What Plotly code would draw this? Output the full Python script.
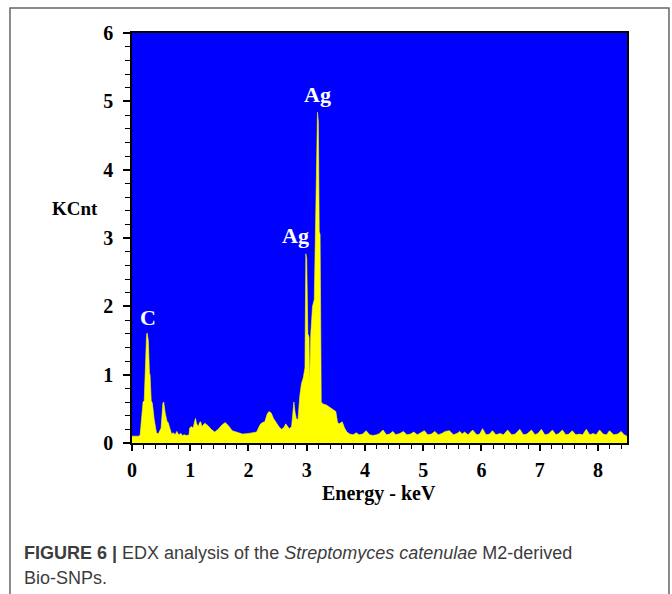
import plotly.graph_objects as go

# EDX spectrum (Energy in keV, counts in KCnt)
energy = [0.00, 0.05, 0.08, 0.10, 0.12, 0.14, 0.155, 0.17, 0.19, 0.21, 0.23, 0.25, 0.26, 0.28, 0.30,
          0.31, 0.33, 0.35, 0.38, 0.42, 0.45, 0.48, 0.50, 0.53, 0.545, 0.57, 0.60, 0.62, 0.65, 0.68,
          0.71, 0.74, 0.77, 0.80, 0.84, 0.87, 0.90, 0.94, 0.98, 0.99, 1.02, 1.05, 1.08, 1.09, 1.11,
          1.14, 1.16, 1.18, 1.20, 1.23, 1.25, 1.28, 1.31, 1.36, 1.42, 1.48, 1.54, 1.60, 1.66, 1.72,
          1.80, 1.90, 2.00, 2.08, 2.14, 2.20, 2.24, 2.28, 2.32, 2.35, 2.39, 2.43, 2.48, 2.53, 2.57,
          2.61, 2.64, 2.67, 2.70, 2.74, 2.77, 2.78, 2.80, 2.82, 2.85, 2.88, 2.91, 2.94, 2.97, 2.985,
          3.00, 3.02, 3.04, 3.05, 3.07, 3.10, 3.13, 3.16, 3.185, 3.20, 3.215, 3.23, 3.25, 3.28, 3.33,
          3.40, 3.46, 3.50, 3.53, 3.56, 3.59, 3.61, 3.65, 3.69, 3.74, 3.80, 3.85, 3.90, 3.96, 4.02,
          4.08, 4.14, 4.20, 4.25, 4.31, 4.37, 4.42, 4.48, 4.53, 4.60, 4.66, 4.72, 4.78, 4.84, 4.90,
          4.96, 5.02, 5.08, 5.14, 5.20, 5.26, 5.32, 5.38, 5.45, 5.52, 5.58, 5.63, 5.67, 5.71, 5.77,
          5.85, 5.92, 5.97, 6.02, 6.08, 6.14, 6.19, 6.25, 6.32, 6.38, 6.45, 6.52, 6.58, 6.66, 6.72,
          6.78, 6.86, 6.92, 6.97, 7.03, 7.09, 7.15, 7.22, 7.28, 7.33, 7.39, 7.45, 7.50, 7.56, 7.62,
          7.68, 7.74, 7.80, 7.86, 7.92, 7.97, 8.03, 8.09, 8.15, 8.20, 8.27, 8.34, 8.40, 8.45, 8.50]
kcnt = [0.10, 0.10, 0.09, 0.10, 0.10, 0.12, 0.24, 0.40, 0.60, 0.62, 1.20, 1.58, 1.61, 1.50, 1.02,
        1.00, 0.62, 0.58, 0.35, 0.15, 0.13, 0.18, 0.22, 0.58, 0.60, 0.44, 0.32, 0.30, 0.22, 0.13,
        0.15, 0.12, 0.17, 0.12, 0.14, 0.11, 0.12, 0.11, 0.12, 0.22, 0.24, 0.22, 0.33, 0.36, 0.28,
        0.24, 0.30, 0.31, 0.24, 0.28, 0.29, 0.27, 0.25, 0.20, 0.16, 0.20, 0.26, 0.30, 0.25, 0.18,
        0.16, 0.13, 0.14, 0.15, 0.16, 0.27, 0.30, 0.31, 0.42, 0.46, 0.44, 0.36, 0.29, 0.23, 0.20,
        0.23, 0.28, 0.25, 0.21, 0.24, 0.50, 0.60, 0.45, 0.36, 0.34, 0.68, 0.87, 0.95, 1.10, 2.77,
        2.70, 1.60, 1.55, 0.87, 1.60, 2.00, 2.10, 3.50, 4.84, 4.70, 3.10, 3.05, 0.60, 0.57, 0.56,
        0.52, 0.48, 0.46, 0.30, 0.28, 0.30, 0.31, 0.22, 0.16, 0.13, 0.12, 0.15, 0.12, 0.13, 0.18,
        0.12, 0.11, 0.12, 0.14, 0.19, 0.12, 0.13, 0.17, 0.12, 0.14, 0.17, 0.12, 0.13, 0.16, 0.12,
        0.15, 0.18, 0.12, 0.13, 0.17, 0.12, 0.14, 0.17, 0.18, 0.12, 0.14, 0.17, 0.13, 0.16, 0.12,
        0.19, 0.12, 0.13, 0.21, 0.12, 0.13, 0.18, 0.12, 0.14, 0.12, 0.19, 0.12, 0.13, 0.20, 0.12,
        0.13, 0.19, 0.12, 0.14, 0.20, 0.12, 0.13, 0.19, 0.12, 0.14, 0.19, 0.12, 0.13, 0.18, 0.12,
        0.13, 0.12, 0.20, 0.12, 0.14, 0.12, 0.19, 0.13, 0.12, 0.18, 0.12, 0.13, 0.17, 0.12, 0.10]

# Peak labels
peak_labels = ["C", "Ag", "Ag"]
peak_x = [0.27, 2.81, 3.19]
peak_y = [1.83, 3.03, 5.10]

x_ticks = [0, 1, 2, 3, 4, 5, 6, 7, 8]
y_ticks = [0, 1, 2, 3, 4, 5, 6]

SERIF = "Liberation Serif"
SANS = "Liberation Sans"

fig = go.Figure()
fig.add_trace(go.Scatter(
    x=energy, y=kcnt, mode="lines", fill="tozeroy",
    line=dict(color="#FFFF00", width=0.6), fillcolor="#FFFF00",
    hoverinfo="skip", showlegend=False,
))

for lab, px, py in zip(peak_labels, peak_x, peak_y):
    fig.add_annotation(x=px, y=py, text=lab, showarrow=False, xanchor="center", yanchor="middle",
                       font=dict(family=SERIF, size=22, color="white", weight="bold"))

# Axis titles and caption
fig.add_annotation(xref="paper", yref="paper", x=-0.115, y=0.571, text="KCnt",
                   xanchor="center", yanchor="middle",
                   showarrow=False, font=dict(family=SERIF, size=19, color="black", weight="bold"))
fig.add_annotation(xref="paper", yref="paper", x=0.499, y=-0.122, text="Energy - keV",
                   xanchor="center", yanchor="middle",
                   showarrow=False, font=dict(family=SERIF, size=20, color="black", weight="bold"))
fig.add_annotation(xref="paper", yref="paper", x=-0.2222, y=-0.268, xanchor="left", yanchor="middle",
                   text="<b>FIGURE 6 |</b> EDX analysis of the <i>Streptomyces catenulae</i> M2-derived",
                   showarrow=False, font=dict(family=SANS, size=18, color="#3c3c3c"))
fig.add_annotation(xref="paper", yref="paper", x=-0.2222, y=-0.329, xanchor="left", yanchor="middle",
                   text="Bio-SNPs.",
                   showarrow=False, font=dict(family=SANS, size=18, color="#3c3c3c"))

# Outer frame
fig.add_shape(type="rect", xref="paper", yref="paper", x0=-0.2465, x1=1.0848, y0=-0.45, y1=1.061,
              line=dict(color="#666666", width=1.5))

fig.update_xaxes(range=[0, 8.5], tickvals=x_ticks, ticks="outside", ticklen=6, tickwidth=1.5,
                 tickcolor="black", showline=True, linecolor="black", linewidth=1.5, mirror=True,
                 showgrid=False, zeroline=False, ticklabelstandoff=2,
                 minor=dict(dtick=0.2, ticks="outside", ticklen=4, tickwidth=1.2, tickcolor="black"),
                 tickfont=dict(family=SERIF, size=20, color="black", weight="bold"))
fig.update_yaxes(range=[0, 6], tickvals=y_ticks, ticks="outside", ticklen=7, tickwidth=1.5,
                 tickcolor="black", showline=True, linecolor="black", linewidth=1.5, mirror=True,
                 showgrid=False, zeroline=False, ticklabelstandoff=6,
                 minor=dict(dtick=0.2, ticks="outside", ticklen=5, tickwidth=1.2, tickcolor="black"),
                 tickfont=dict(family=SERIF, size=20, color="black", weight="bold"))

fig.update_layout(width=672, height=594, margin=dict(l=132, r=45, t=33, b=151),
                  plot_bgcolor="#0000FF", paper_bgcolor="white")

fig.write_html("out.html")
